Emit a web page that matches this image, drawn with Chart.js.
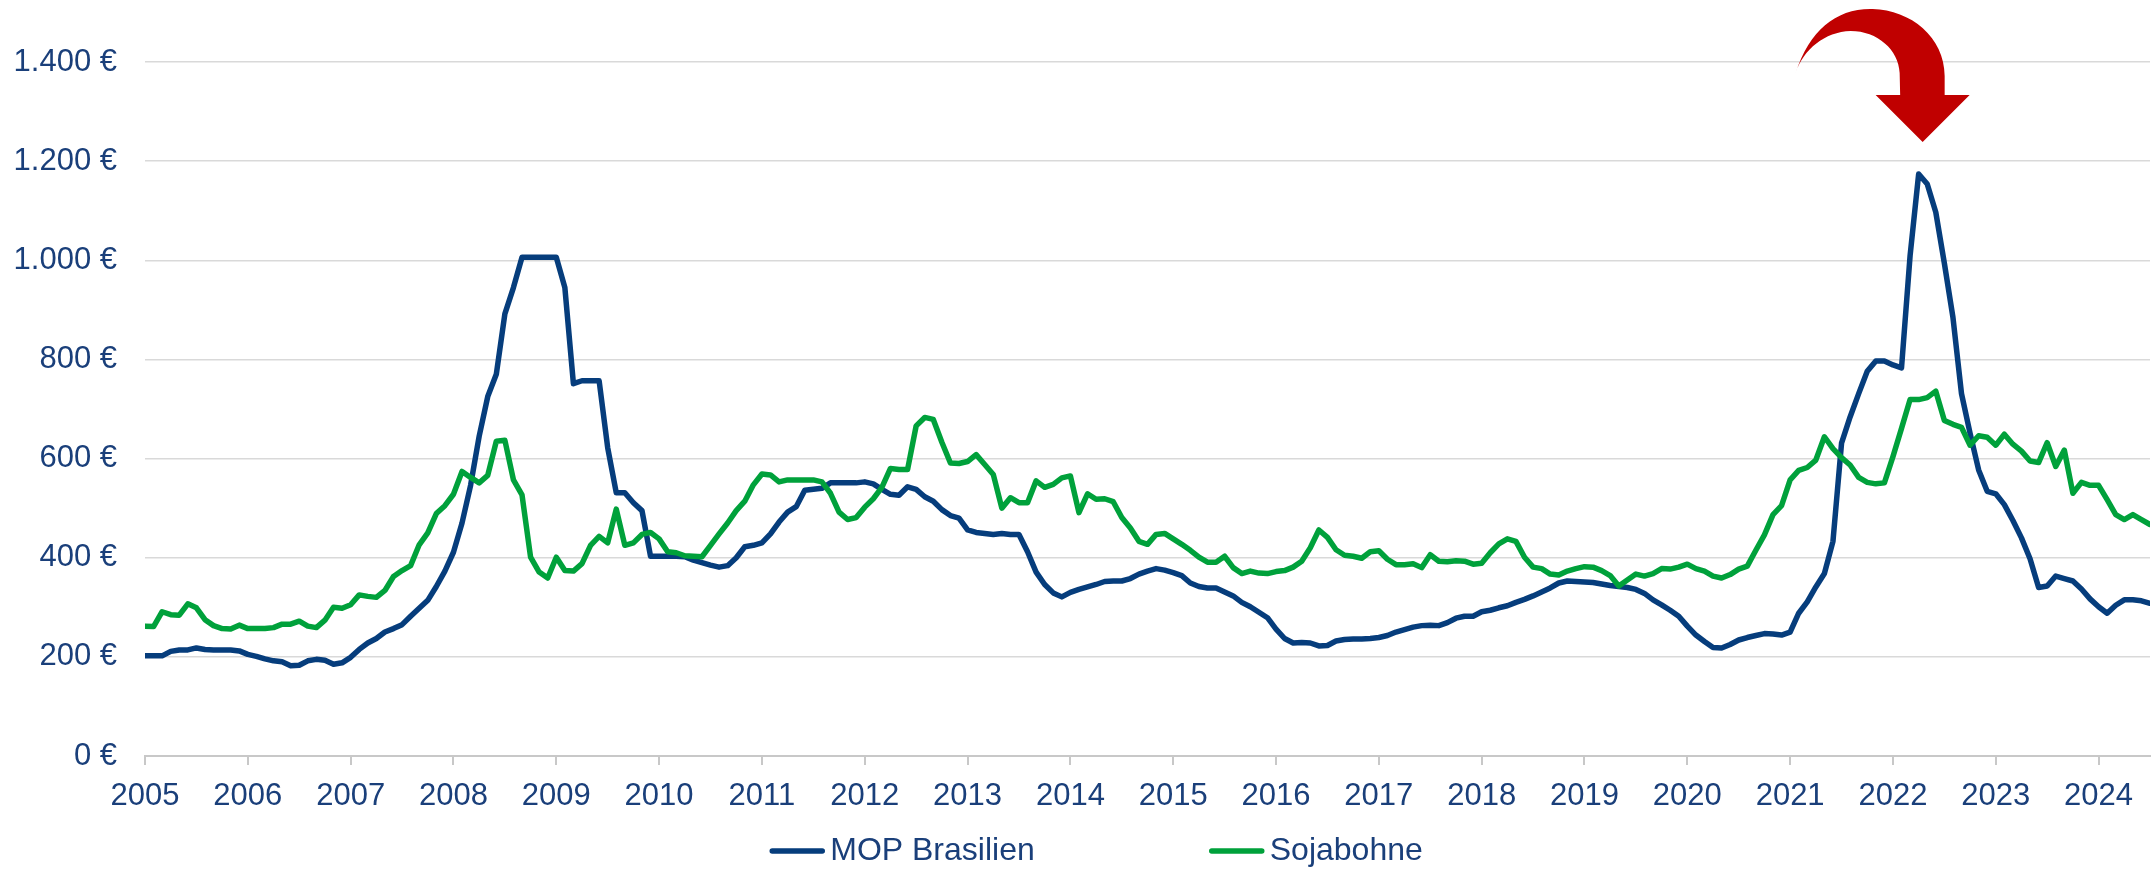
<!DOCTYPE html>
<html lang="de">
<head>
<meta charset="utf-8">
<title>MOP Brasilien und Sojabohne</title>
<script src="https://cdn.jsdelivr.net/npm/chart.js@4.4.1/dist/chart.umd.min.js"></script>
<style>
  html, body { margin: 0; padding: 0; background: #fff; }
  canvas { display: block; }
</style>
</head>
<body>
<canvas id="myChart" width="2156" height="869"></canvas>
<script>
// monthly values Jan 2005 - Jul 2024, EUR
const years = [2005, 2006, 2007, 2008, 2009, 2010, 2011, 2012, 2013, 2014,
  2015, 2016, 2017, 2018, 2019, 2020, 2021, 2022, 2023, 2024];

const mop = [
  202, 202, 202, 211, 214, 214, 218, 215, 214, 214, 214, 212,
  205, 201, 196, 192, 190, 182, 183, 192, 195, 193, 185, 188,
  199, 215, 228, 237, 250, 257, 265, 282, 298, 314, 342, 373,
  411, 470, 546, 645, 725, 770, 892, 945, 1006, 1006, 1006, 1006,
  1006, 945, 751, 757, 757, 757, 622, 531, 531, 511, 495, 403,
  403, 403, 403, 402, 395, 390, 385, 381, 384, 400, 422, 425,
  430, 448, 472, 492, 503, 536, 538, 540, 551, 551, 551, 551,
  553, 549, 538, 528, 526, 543, 538, 523, 514, 497, 485, 480,
  456, 451, 449, 447, 449, 447, 447, 412, 371, 346, 329, 321,
  330, 336, 341, 346, 352, 353, 353, 358, 367, 373, 378, 375,
  370, 364, 349, 342, 339, 339, 331, 323, 310, 301, 290, 279,
  256, 237, 228, 229, 228, 222, 223, 232, 235, 236, 236, 237,
  239, 243, 250, 255, 260, 263, 264, 263, 269, 278, 282, 282,
  291, 294, 299, 303, 310, 316, 323, 331, 339, 349, 353, 352,
  351, 350, 347, 344, 342, 340, 336, 328, 315, 305, 294, 282,
  262, 244, 231, 219, 218, 225, 234, 239, 243, 247, 246, 244,
  250, 288, 311, 341, 368, 433, 631, 684, 731, 776, 797, 797,
  789, 783, 1009, 1174, 1154, 1097, 994, 885, 731, 651, 577, 534,
  529, 507, 475, 440, 398, 340, 343, 363, 358, 353, 337, 317,
  301, 288, 304, 315, 315, 313, 308
];

const soja = [
  262, 261, 291, 285, 284, 307, 299, 275, 263, 257, 256, 264,
  257, 257, 257, 259, 266, 266, 272, 262, 259, 274, 300, 298,
  305, 325, 322, 320, 334, 362, 374, 384, 426, 450, 489, 505,
  528, 574, 562, 551, 566, 635, 637, 557, 527, 401, 371, 359,
  401, 374, 373, 388, 425, 443, 430, 498, 425, 430, 447, 451,
  438, 412, 410, 404, 403, 402, 425, 448, 470, 495, 514, 547,
  569, 567, 553, 557, 557, 557, 557, 553, 530, 492, 477, 481,
  502, 519, 542, 580, 578, 578, 666, 683, 679, 633, 591, 590,
  594, 608, 588, 568, 500, 521, 511, 511, 555, 542, 548, 561,
  565, 491, 529, 518, 519, 513, 481, 460, 433, 427, 447, 449,
  438, 427, 415, 401, 391, 391, 403, 380, 368, 373, 369, 368,
  372, 374, 381, 393, 420, 456, 441, 416, 405, 403, 399, 412,
  414, 397, 386, 386, 388, 380, 406, 393, 392, 394, 393, 387,
  389, 410, 428, 438, 433, 401, 381, 378, 367, 365, 373, 378,
  382, 381, 374, 364, 343, 355, 367, 363, 368, 378, 377, 381,
  387, 378, 373, 363, 359, 366, 377, 383, 415, 446, 487, 505,
  557, 576, 582, 597, 644, 620, 602, 587, 562, 552, 549, 551,
  604, 661, 719, 719, 723, 736, 677, 669, 663, 627, 646, 643,
  627, 649, 629, 615, 595, 592, 632, 584, 617, 530, 552, 546,
  546, 517, 487, 477, 487, 477, 467
];

const yMax = 1400;
const yStep = 200;

const textColor = '#1a3f7a';
const fontFamily = '"Liberation Sans", Arial, sans-serif';

const euro = v => String(v).replace(/\B(?=(\d{3})+(?!\d))/g, '.') + ' €';

// red arrow pointing down at the MOP peak
const peakArrow = {
  id: 'peakArrow',
  afterDraw(chart) {
    const { ctx, scales: { x, y } } = chart;
    let peak = 0;
    mop.forEach((v, i) => { if (v > mop[peak]) peak = i; });
    const tx = x.getPixelForValue(peak) + 4;
    const ty = y.getPixelForValue(mop[peak]) - 32;
    ctx.save();
    ctx.translate(tx, ty);
    ctx.beginPath();
    ctx.moveTo(-127, -69);
    ctx.bezierCurveTo(-113, -112, -86, -134, -50, -133);
    ctx.bezierCurveTo(-12, -132, 22, -105, 22, -66);
    ctx.lineTo(22, -47);
    ctx.lineTo(47, -47);
    ctx.lineTo(0, 0);
    ctx.lineTo(-47, -47);
    ctx.lineTo(-22.5, -47);
    ctx.lineTo(-23, -69);
    ctx.bezierCurveTo(-24, -92, -45, -111, -72, -111);
    ctx.bezierCurveTo(-98, -110, -119, -93, -127, -69);
    ctx.closePath();
    ctx.fillStyle = '#c00000';
    ctx.fill();
    ctx.restore();
  }
};

// legend with line samples and a wide gap between the two entries
const lineLegend = {
  id: 'lineLegend',
  afterDraw(chart) {
    const { ctx } = chart;
    const gap = 174;
    const lineLen = 56;
    const textGap = 5;
    ctx.save();
    ctx.font = '32px ' + fontFamily;
    const items = chart.data.datasets.map(ds => ({ ds, w: ctx.measureText(ds.label).width }));
    const total = items.reduce((s, it) => s + lineLen + textGap + it.w, 0) + gap * (items.length - 1);
    let xPos = chart.width / 2 - total / 2 + 18;
    const yPos = 851;
    items.forEach(it => {
      ctx.strokeStyle = it.ds.borderColor;
      ctx.lineWidth = 5.5;
      ctx.lineCap = 'round';
      ctx.beginPath();
      ctx.moveTo(xPos + 3, yPos);
      ctx.lineTo(xPos + lineLen - 3, yPos);
      ctx.stroke();
      ctx.fillStyle = textColor;
      ctx.textBaseline = 'middle';
      ctx.textAlign = 'left';
      ctx.fillText(it.ds.label, xPos + lineLen + textGap, yPos);
      xPos += lineLen + textGap + it.w + gap;
    });
    ctx.restore();
  }
};

let ctx = document.getElementById('myChart').getContext('2d');
let myChart = new Chart(ctx, {
  type: 'line',
  data: {
    datasets: [
      {
        label: 'MOP Brasilien',
        data: mop.map((v, i) => ({ x: i, y: v })),
        borderColor: '#063d7c',
        backgroundColor: '#063d7c',
        borderWidth: 5.5,
        borderJoinStyle: 'round',
        borderCapStyle: 'round',
        pointRadius: 0,
        tension: 0,
        order: 1,
      },
      {
        label: 'Sojabohne',
        data: soja.map((v, i) => ({ x: i, y: v })),
        borderColor: '#00a13b',
        backgroundColor: '#00a13b',
        borderWidth: 5.5,
        borderJoinStyle: 'round',
        borderCapStyle: 'round',
        pointRadius: 0,
        tension: 0,
        order: 0,
      },
    ],
  },
  plugins: [peakArrow, lineLegend],
  options: {
    responsive: false,
    animation: false,
    devicePixelRatio: 1,
    layout: {
      padding: { top: 62, right: 6, left: 0, bottom: 0 },
    },
    scales: {
      x: {
        type: 'linear',
        min: 0,
        max: mop.length - 1,
        afterFit: scale => { scale.height = 113; },
        border: { display: true, color: '#c8c8c8', width: 2 },
        grid: {
          drawOnChartArea: false,
          drawTicks: true,
          tickLength: 9,
          color: '#c8c8c8',
          lineWidth: 2,
        },
        ticks: {
          stepSize: 12,
          maxTicksLimit: 30,
          includeBounds: false,
          autoSkip: false,
          maxRotation: 0,
          padding: 13,
          color: textColor,
          font: { size: 31, family: fontFamily },
          callback: v => years[v / 12],
        },
      },
      y: {
        min: 0,
        max: yMax,
        afterFit: scale => { scale.width = 145; },
        border: { display: false },
        grid: {
          color: '#d9d9d9',
          lineWidth: 1.5,
          drawTicks: false,
        },
        ticks: {
          stepSize: yStep,
          padding: 28,
          color: textColor,
          font: { size: 31, family: fontFamily },
          callback: v => euro(v),
        },
      },
    },
    plugins: {
      legend: { display: false },
      tooltip: { enabled: false },
    },
  },
});
</script>
</body>
</html>
